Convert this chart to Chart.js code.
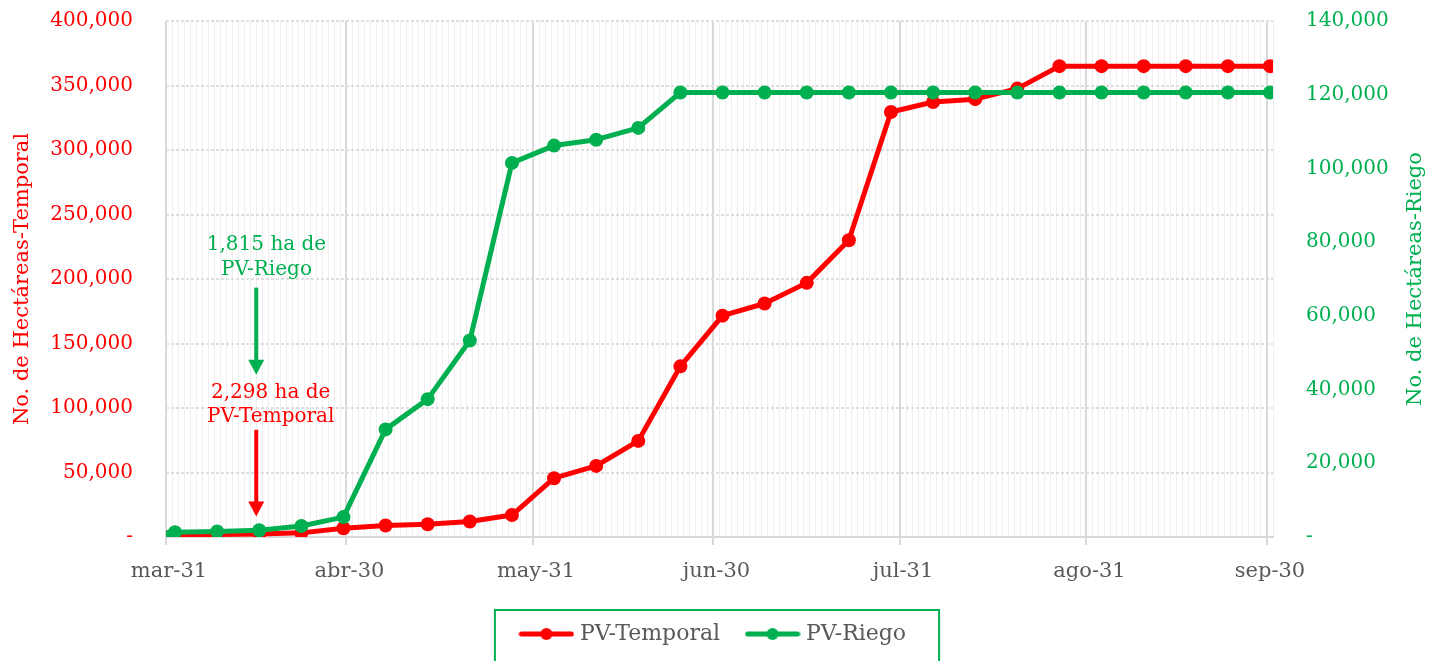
<!DOCTYPE html>
<html>
<head>
<meta charset="utf-8">
<script src="https://cdn.jsdelivr.net/npm/chart.js@4.4.0/dist/chart.umd.min.js"></script>
<style>
html,body{margin:0;padding:0;background:#fff;}
#wrap{width:1430px;height:661px;position:relative;overflow:hidden;}
</style>
</head>
<body>
<div id="wrap"><canvas id="c" width="1430" height="661"></canvas></div>
<script>
// ---- data ----
const dates = ['2021-03-31','2021-04-01','2021-04-08','2021-04-15','2021-04-22','2021-04-29',
  '2021-05-06','2021-05-13','2021-05-20','2021-05-27','2021-06-03','2021-06-10','2021-06-17',
  '2021-06-24','2021-07-01','2021-07-08','2021-07-15','2021-07-22','2021-07-29','2021-08-05',
  '2021-08-12','2021-08-19','2021-08-26','2021-09-02','2021-09-09','2021-09-16','2021-09-23','2021-09-30'];
const pvTemporal = [0, 1200, 2000, 2298, 3200, 6800, 8900, 9900, 12000, 17000, 45600, 55100, 74500,
  132300, 171600, 181000, 197000, 230000, 329500, 337200, 339400, 347600, 365000, 365000, 365000,
  365000, 365000, 365000];
const pvRiego = [0, 1300, 1500, 1815, 3000, 5400, 29200, 37400, 53300, 101500, 106200, 107800, 111000,
  120600, 120600, 120600, 120600, 120600, 120600, 120600, 120600, 120600, 120600, 120600, 120600,
  120600, 120600, 120600];
const seriesNames = ['PV-Temporal', 'PV-Riego'];
const monthTickDates = ['2021-03-31','2021-04-30','2021-05-31','2021-06-30','2021-07-31','2021-08-31','2021-09-30'];
const monthTickLabels = ['mar-31','abr-30','may-31','jun-30','jul-31','ago-31','sep-30'];
const axisTitles = ['No. de Hectáreas-Temporal', 'No. de Hectáreas-Riego'];
const notes = [
  {lines: ['1,815 ha de', 'PV-Riego'], series: 1},
  {lines: ['2,298 ha de', 'PV-Temporal'], series: 0}
];

// ---- helpers ----
const RED = '#ff0000', GREEN = '#00b050', GREY = '#595959';
const FONT = "'DejaVu Serif', serif";
const day0 = Date.parse(dates[0]);
const dayOf = iso => Math.round((Date.parse(iso) - day0) / 864e5);
const monthDays = monthTickDates.map(dayOf);
const lastDay = dayOf(dates[dates.length - 1]) + 1;
const toPoints = vals => vals.map((v, i) => ({x: dayOf(dates[i]) + 0.5, y: v}));
const fmt = v => v === 0 ? '-' : v.toLocaleString('en-US');

function legendSwatch(color) {
  const c = document.createElement('canvas');
  c.width = 56; c.height = 16;
  const g = c.getContext('2d');
  g.strokeStyle = color; g.lineWidth = 5; g.lineCap = 'round';
  g.beginPath(); g.moveTo(3, 8); g.lineTo(53, 8); g.stroke();
  g.fillStyle = color; g.beginPath(); g.arc(28, 8, 6, 0, Math.PI * 2); g.fill();
  return c;
}
const swatches = [legendSwatch(RED), legendSwatch(GREEN)];

// annotation placement (decoration, in axis units)
const noteLayout = [
  {textDay: 16.7, textY: [226700, 207300], arrowDay: 15, arrowFrom: 193300, arrowTo: 125800, color: GREEN},
  {textDay: 17.4, textY: [111800, 93200], arrowDay: 15, arrowFrom: 83100, arrowTo: 15800, color: RED}
];

const extras = {
  id: 'extras',
  afterDraw(chart) {
    const ctx = chart.ctx, x = chart.scales.x, y = chart.scales.y, area = chart.chartArea;
    notes.forEach((n, i) => {
      const L = noteLayout[i];
      ctx.save();
      ctx.fillStyle = L.color; ctx.strokeStyle = L.color;
      ctx.font = '20px ' + FONT; ctx.textAlign = 'center'; ctx.textBaseline = 'middle';
      n.lines.forEach((t, k) => ctx.fillText(t, x.getPixelForValue(L.textDay), y.getPixelForValue(L.textY[k])));
      const ax = x.getPixelForValue(L.arrowDay);
      const y1 = y.getPixelForValue(L.arrowFrom), y2 = y.getPixelForValue(L.arrowTo);
      ctx.lineWidth = 4;
      ctx.beginPath(); ctx.moveTo(ax, y1); ctx.lineTo(ax, y2 - 12); ctx.stroke();
      ctx.beginPath(); ctx.moveTo(ax - 8, y2 - 15); ctx.lineTo(ax + 8, y2 - 15); ctx.lineTo(ax, y2); ctx.closePath(); ctx.fill();
      ctx.restore();
    });
    ctx.save();
    ctx.fillStyle = GREEN; ctx.font = '21px ' + FONT; ctx.textAlign = 'center'; ctx.textBaseline = 'middle';
    ctx.translate(chart.width - 14, (area.top + area.bottom) / 2);
    ctx.rotate(-Math.PI / 2);
    ctx.fillText(axisTitles[1], 0, 0);
    ctx.restore();
    const hb = chart.legend.legendHitBoxes;
    if (hb && hb.length) {
      const first = hb[0], last = hb[hb.length - 1];
      const cy = first.top + first.height / 2;
      ctx.save();
      ctx.strokeStyle = GREEN; ctx.lineWidth = 2;
      ctx.strokeRect(first.left - 29, cy - 24, (last.left + last.width + 33) - (first.left - 29), 80);
      ctx.restore();
    }
  }
};

const fixY = w => s => { s.width = w; s.paddingTop = 0; s.paddingBottom = 0; };

new Chart(document.getElementById('c'), {
  type: 'line',
  data: {
    datasets: [
      {label: seriesNames[0], data: toPoints(pvTemporal), yAxisID: 'y', order: 1,
       borderColor: RED, backgroundColor: RED, borderWidth: 5, pointRadius: 7, pointHoverRadius: 7,
       pointBackgroundColor: RED, pointBorderWidth: 0, tension: 0, borderJoinStyle: 'round'},
      {label: seriesNames[1], data: toPoints(pvRiego), yAxisID: 'y1', order: 0,
       borderColor: GREEN, backgroundColor: GREEN, borderWidth: 5, pointRadius: 7, pointHoverRadius: 7,
       pointBackgroundColor: GREEN, pointBorderWidth: 0, tension: 0, borderJoinStyle: 'round'}
    ]
  },
  options: {
    responsive: false,
    animation: false,
    devicePixelRatio: 1,
    layout: {padding: {top: 21, bottom: 6, left: 0, right: 0}},
    plugins: {
      tooltip: {enabled: false},
      legend: {
        position: 'bottom',
        labels: {
          font: {family: FONT, size: 22}, color: GREY, usePointStyle: true, pointStyleWidth: 45, padding: 30,
          generateLabels: chart => chart.data.datasets.map((ds, i) => ({
            text: ds.label, fillStyle: ds.borderColor, strokeStyle: ds.borderColor, lineWidth: 0,
            pointStyle: swatches[i], datasetIndex: i, hidden: false, fontColor: GREY
          }))
        }
      }
    },
    scales: {
      x: {
        type: 'linear', min: 0, max: lastDay,
        afterBuildTicks: s => { const t = []; for (let d = 0; d <= lastDay; d++) t.push({value: d}); s.ticks = t; },
        afterFit: s => { s.height = 56; },
        ticks: {
          autoSkip: false, maxRotation: 0, minRotation: 0, padding: 14, labelOffset: 3,
          color: GREY, font: {family: FONT, size: 21},
          callback: v => { const k = monthDays.indexOf(v); return k >= 0 ? monthTickLabels[k] : ''; }
        },
        grid: {
          color: c => monthDays.includes(c.tick && c.tick.value) ? '#d9d9d9' : '#eeeeee',
          lineWidth: c => monthDays.includes(c.tick && c.tick.value) ? 2 : 1,
          tickColor: c => monthDays.includes(c.tick && c.tick.value) ? '#d9d9d9' : 'rgba(0,0,0,0)',
          tickLength: 8, drawTicks: true
        },
        border: {display: true, color: '#d9d9d9', width: 2}
      },
      y: {
        position: 'left', min: 0, max: 400000,
        afterFit: fixY(166),
        ticks: {stepSize: 50000, color: RED, font: {family: FONT, size: 20}, padding: 33, callback: fmt},
        grid: {color: '#dedede', lineWidth: 2, drawTicks: false},
        border: {display: false, dash: [3, 2]},
        title: {display: true, text: axisTitles[0], color: RED, font: {family: FONT, size: 21}, padding: {top: 10, bottom: 0}}
      },
      y1: {
        position: 'right', min: 0, max: 140000,
        afterFit: fixY(157),
        ticks: {stepSize: 20000, color: GREEN, font: {family: FONT, size: 20}, padding: 33, callback: fmt},
        grid: {display: false, drawOnChartArea: false, drawTicks: false},
        border: {display: false}
      }
    }
  },
  plugins: [extras]
});
</script>
</body>
</html>
